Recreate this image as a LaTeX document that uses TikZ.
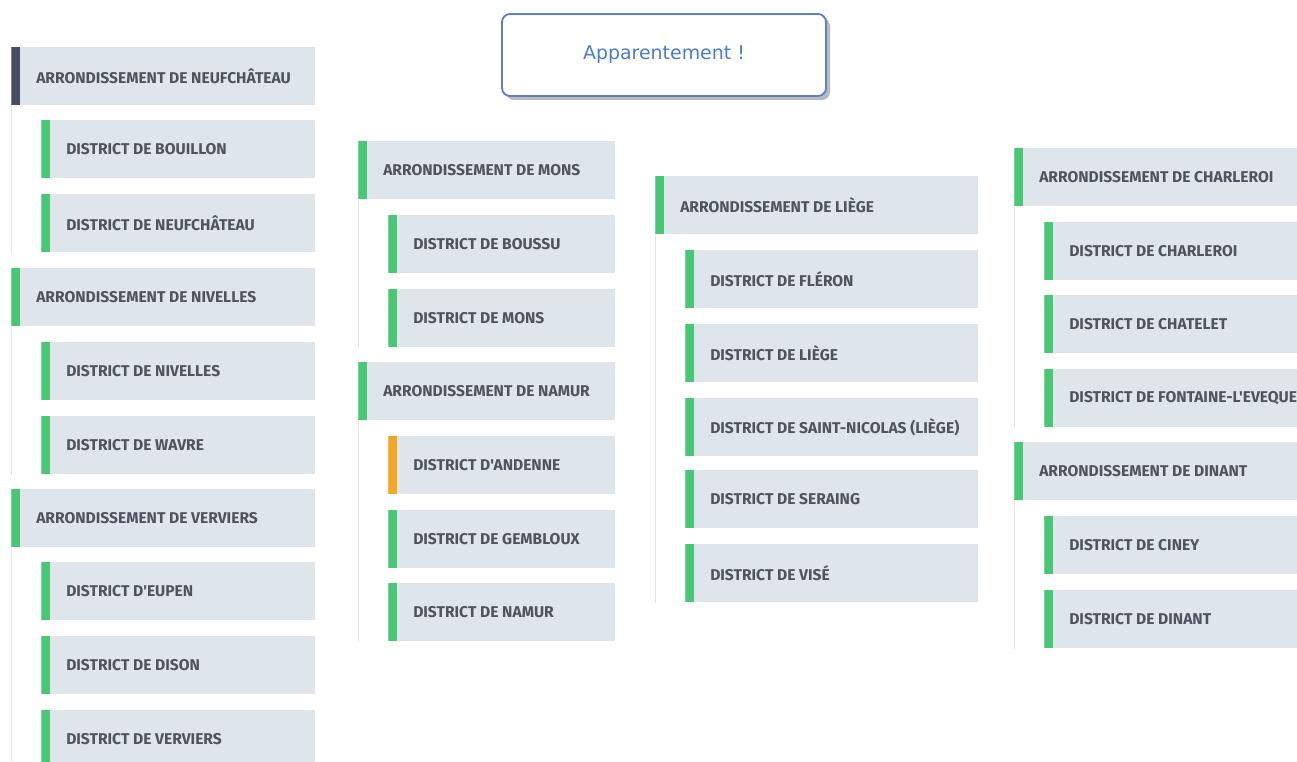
\documentclass[tikz,border=0pt]{standalone}
\usepackage{fontspec}
\setmainfont{Fira Sans}[Ligatures=TeXOff]
\newfontfamily\appfont{DejaVu Sans}
\usetikzlibrary{shadows}
\definecolor{boxfill}{HTML}{DFE6EB}
\definecolor{barg}{HTML}{48C774}
\definecolor{bard}{HTML}{474E5D}
\definecolor{baro}{HTML}{F5A623}
\definecolor{txtc}{HTML}{4E535E}
\definecolor{vlinec}{HTML}{E4E6E8}
\definecolor{appblue}{HTML}{5A80D4}
\definecolor{apptext}{HTML}{4A7BD4}
\tikzset{
  obox/.style={rectangle, fill=boxfill, draw=none, inner sep=0pt, minimum height=58*0.75pt},
  sidebar/.style={path picture={\fill[#1] (path picture bounding box.north west) rectangle ([xshift=6.75pt]path picture bounding box.south west);}},
  olbl/.style={inner sep=0pt, text=txtc, font=\fontsize{11.7pt}{13pt}\selectfont\bfseries},
  vline/.style={draw=vlinec, line width=0.8pt},
  appbox/.style={rectangle, rounded corners=6pt, draw=appblue, line width=1.4pt, fill=white,
     minimum width=324*0.75pt, minimum height=82*0.75pt,
     drop shadow={shadow xshift=3pt, shadow yshift=-3pt, fill=black!60, opacity=0.45},
     text=apptext, font=\appfont\fontsize{14.2pt}{16pt}\selectfont}
}
\newcommand\orgbox[6]{%
  \node[obox, sidebar=#5, minimum width={(#4-#2)*0.75pt}, anchor=north west] (#1) at (#2,#3) {};
  \node[olbl, anchor=west] (#1-t) at ([xshift=25*0.75pt]#1.west) {#6};}
\begin{document}
\begin{tikzpicture}[x=0.75pt,y=-0.75pt]
\useasboundingbox (0,0) rectangle (1297,762);
\clip (0,0) rectangle (1297,762);
% title
\node[appbox] (app) at (664,55) {Apparentement !};
% column 1
\orgbox{a1}{11}{47}{315}{bard}{ARRONDISSEMENT DE NEUFCHÂTEAU}
\orgbox{a1d1}{41}{120}{315}{barg}{DISTRICT DE BOUILLON}
\orgbox{a1d2}{41}{194}{315}{barg}{DISTRICT DE NEUFCHÂTEAU}
\orgbox{a2}{11}{268}{315}{barg}{ARRONDISSEMENT DE NIVELLES}
\orgbox{a2d1}{41}{342}{315}{barg}{DISTRICT DE NIVELLES}
\orgbox{a2d2}{41}{416}{315}{barg}{DISTRICT DE WAVRE}
\orgbox{a3}{11}{489}{315}{barg}{ARRONDISSEMENT DE VERVIERS}
\orgbox{a3d1}{41}{562}{315}{barg}{DISTRICT D'EUPEN}
\orgbox{a3d2}{41}{636}{315}{barg}{DISTRICT DE DISON}
\orgbox{a3d3}{41}{710}{315}{barg}{DISTRICT DE VERVIERS}
% column 2
\orgbox{b1}{358}{141}{615}{barg}{ARRONDISSEMENT DE MONS}
\orgbox{b1d1}{388}{215}{615}{barg}{DISTRICT DE BOUSSU}
\orgbox{b1d2}{388}{289}{615}{barg}{DISTRICT DE MONS}
\orgbox{b2}{358}{362}{615}{barg}{ARRONDISSEMENT DE NAMUR}
\orgbox{b2d1}{388}{436}{615}{baro}{DISTRICT D'ANDENNE}
\orgbox{b2d2}{388}{510}{615}{barg}{DISTRICT DE GEMBLOUX}
\orgbox{b2d3}{388}{583}{615}{barg}{DISTRICT DE NAMUR}
% column 3
\orgbox{c1}{655}{176}{978}{barg}{ARRONDISSEMENT DE LIÈGE}
\orgbox{c1d1}{685}{250}{978}{barg}{DISTRICT DE FLÉRON}
\orgbox{c1d2}{685}{324}{978}{barg}{DISTRICT DE LIÈGE}
\orgbox{c1d3}{685}{398}{978}{barg}{DISTRICT DE SAINT-NICOLAS (LIÈGE)}
\orgbox{c1d4}{685}{470}{978}{barg}{DISTRICT DE SERAING}
\orgbox{c1d5}{685}{544}{978}{barg}{DISTRICT DE VISÉ}
% column 4
\orgbox{d1}{1014}{148}{1310}{barg}{ARRONDISSEMENT DE CHARLEROI}
\orgbox{d1d1}{1044}{222}{1310}{barg}{DISTRICT DE CHARLEROI}
\orgbox{d1d2}{1044}{295}{1310}{barg}{DISTRICT DE CHATELET}
\orgbox{d1d3}{1044}{369}{1310}{barg}{DISTRICT DE FONTAINE-L'EVEQUE}
\orgbox{d2}{1014}{442}{1310}{barg}{ARRONDISSEMENT DE DINANT}
\orgbox{d2d1}{1044}{516}{1310}{barg}{DISTRICT DE CINEY}
\orgbox{d2d2}{1044}{590}{1310}{barg}{DISTRICT DE DINANT}
% tree lines
\draw[vline] ([xshift=0.4pt]a1.south west) -- ([xshift=0.4pt]a1.south west |- a1d2.south);
\draw[vline] ([xshift=0.4pt]a2.south west) -- ([xshift=0.4pt]a2.south west |- a2d2.south);
\draw[vline] ([xshift=0.4pt]a3.south west) -- ([xshift=0.4pt]a3.south west |- a3d3.south);
\draw[vline] ([xshift=0.4pt]b1.south west) -- ([xshift=0.4pt]b1.south west |- b1d2.south);
\draw[vline] ([xshift=0.4pt]b2.south west) -- ([xshift=0.4pt]b2.south west |- b2d3.south);
\draw[vline] ([xshift=0.4pt]c1.south west) -- ([xshift=0.4pt]c1.south west |- c1d5.south);
\draw[vline] ([xshift=0.4pt]d1.south west) -- ([xshift=0.4pt]d1.south west |- d1d3.south);
\draw[vline] ([xshift=0.4pt]d2.south west) -- ([xshift=0.4pt]d2.south west |- d2d2.south);
\end{tikzpicture}
\end{document}
